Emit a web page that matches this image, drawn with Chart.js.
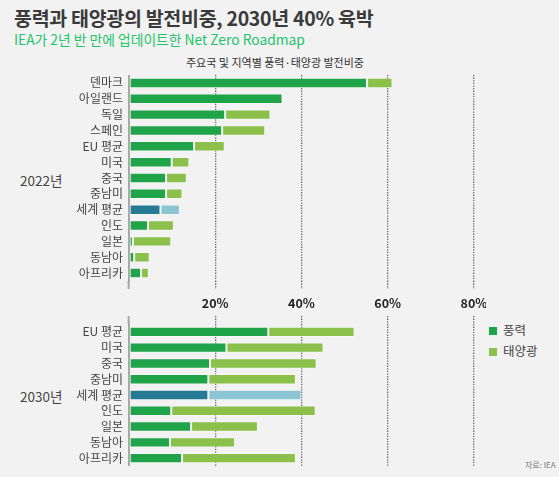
<!DOCTYPE html>
<html>
<head>
<meta charset="utf-8">
<script src="https://cdn.jsdelivr.net/npm/chart.js@4"></script>
<style>
  body { margin: 0; background: #f2f2f2; font-family: "Noto Sans CJK KR", "Noto Sans", sans-serif; }
  #wrap { position: relative; width: 559px; height: 477px; overflow: hidden; background: #f2f2f2; }
  .txt { position: absolute; white-space: nowrap; }
  #title { left: 14px; top: 3px; font-size: 19.5px; font-weight: bold; color: #3a3a3a; letter-spacing: -0.3px; }
  #sub { left: 14px; top: 29px; font-size: 13.8px; color: #22c46a; }
  #ctitle { left: 186px; top: 54px; font-size: 11px; color: #333; }
  .year { left: 20px; font-size: 13.5px; color: #444; }
  .leg { left: 489px; font-size: 12.5px; color: #444; }
  .leg i { display: inline-block; width: 8px; height: 8px; margin-right: 6px; vertical-align: 0px; }
  #src { left: 525px; top: 459px; font-size: 8px; color: #777; }
  canvas { position: absolute; left: 0; }
</style>
</head>
<body>
<div id="wrap">
  <div class="txt" id="title">풍력과 태양광의 발전비중, 2030년 40% 육박</div>
  <div class="txt" id="sub">IEA가 2년 반 만에 업데이트한 Net Zero Roadmap</div>
  <div class="txt" id="ctitle">주요국 및 지역별 풍력·태양광 발전비중</div>
  <div class="txt year" style="top:170px">2022년</div>
  <div class="txt year" style="top:386px">2030년</div>
  <div class="txt leg" style="top:320px"><i style="background:#1fa44a"></i>풍력</div>
  <div class="txt leg" style="top:341px"><i style="background:#8bc04b"></i>태양광</div>
  <div class="txt" id="src">자료: IEA</div>
  <canvas id="top" style="top:75px" width="486" height="214"></canvas>
  <canvas id="bottom" style="top:295px" width="486" height="171"></canvas>
</div>
<script>
// 2022년 (단위: %)
const labels2022 = ['덴마크', '아일랜드', '독일', '스페인', 'EU 평균', '미국', '중국', '중남미', '세계 평균', '인도', '일본', '동남아', '아프리카'];
const wind2022 = [55.2, 35.6, 22.3, 21.6, 15.1, 9.9, 8.6, 8.6, 7.3, 4.4, 0.9, 1.2, 2.8];
const solar2022 = [5.9, 0.3, 10.5, 10.0, 7.1, 4.1, 4.8, 3.8, 4.5, 6.0, 8.9, 3.6, 1.8];

// 2030년 (단위: %)
const labels2030 = ['EU 평균', '미국', '중국', '중남미', '세계 평균', '인도', '일본', '동남아', '아프리카'];
const wind2030 = [32.3, 22.6, 18.8, 18.4, 18.4, 9.8, 14.4, 9.5, 12.3];
const solar2030 = [20.0, 22.5, 24.7, 20.3, 21.6, 33.5, 15.5, 15.1, 26.4];

const xTicks = [0, 20, 40, 60, 80];

const WIND = '#1fa44a', SOLAR = '#8bc04b', WORLD_WIND = '#247b93', WORLD_SOLAR = '#8bc5d4';
const GRID = '#666';

function makeChart(id, labels, wind, solar, showTicks) {
  const world = labels.indexOf('세계 평균');
  const ctx = document.getElementById(id).getContext('2d');
  return new Chart(ctx, {
    type: 'bar',
    data: {
      labels: labels,
      datasets: [{
        label: '풍력',
        data: wind,
        backgroundColor: c => c.dataIndex === world ? WORLD_WIND : WIND,
        borderColor: 'rgba(255,255,255,0.45)',
        borderWidth: 1,
        borderSkipped: false,
        categoryPercentage: 1,
        barPercentage: 0.66
      }, {
        label: '태양광',
        data: solar,
        backgroundColor: c => c.dataIndex === world ? WORLD_SOLAR : SOLAR,
        borderColor: 'rgba(255,255,255,0.45)',
        borderWidth: 1,
        borderSkipped: false,
        categoryPercentage: 1,
        barPercentage: 0.66
      }]
    },
    options: {
      indexAxis: 'y',
      responsive: false,
      animation: false,
      layout: { autoPadding: false, padding: { right: 12, top: 0, bottom: 0, left: 0 } },
      plugins: { legend: { display: false }, tooltip: { enabled: false } },
      scales: {
        x: {
          stacked: true,
          min: 0,
          max: 80,
          position: showTicks ? 'top' : 'bottom',
          afterBuildTicks: s => { s.ticks = xTicks.map(v => ({ value: v })); },
          afterFit: s => {
            s.height = showTicks ? 29 : 8;
            s.paddingLeft = 0; s.paddingRight = 0;
          },
          ticks: {
            display: showTicks,
            padding: 5,
            color: '#222',
            font: { family: 'Noto Sans CJK KR', size: 12.5, weight: 'bold' },
            callback: v => v === 0 ? '' : v + '%'
          },
          grid: {
            color: c => c.tick && c.tick.value === 0 ? 'rgba(0,0,0,0)' : GRID,
            lineWidth: 1.3,
            drawTicks: true,
            tickLength: 8,
            tickColor: c => c.tick && c.tick.value === 0 ? '#a8a8a8' : GRID,
            tickWidth: c => c.tick && c.tick.value === 0 ? 2 : 1.3,
            tickBorderDash: c => c.tick && c.tick.value === 0 ? [] : [1.3, 1.3]
          },
          border: { display: false, dash: [1.3, 1.3] }
        },
        y: {
          stacked: true,
          afterFit: s => {
            s.width = 129;
            s.paddingTop = 0; s.paddingBottom = 0;
          },
          ticks: {
            autoSkip: false,
            padding: 6,
            color: '#444',
            font: { family: 'Noto Sans CJK KR', size: 12 }
          },
          grid: { display: false, drawTicks: false },
          border: { display: true, color: '#a8a8a8', width: 2 }
        }
      }
    }
  });
}

makeChart('top', labels2022, wind2022, solar2022, false);
makeChart('bottom', labels2030, wind2030, solar2030, true);
</script>
</body>
</html>
